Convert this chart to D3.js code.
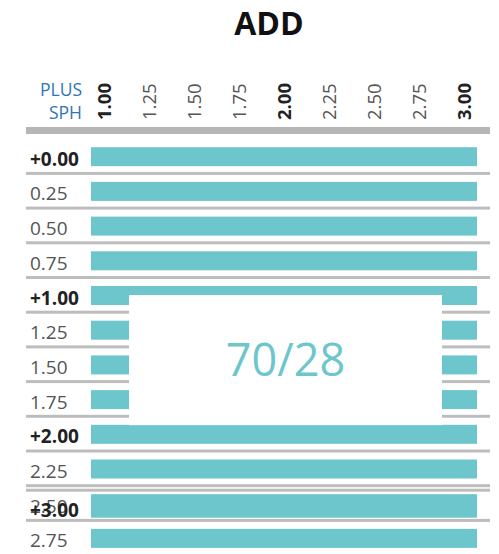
<!DOCTYPE html>
<html>
<head>
<meta charset="utf-8">
<script src="https://cdn.jsdelivr.net/npm/d3@7"></script>
<style>
  html, body { margin: 0; padding: 0; background: #fff; }
  svg { display: block; font-family: "Open Sans", "Noto Sans", sans-serif; }
</style>
</head>
<body>
<svg id="chart" width="499" height="554"></svg>
<script>
// ---- data ----
const title = "ADD";
const axisTitle = ["PLUS", "SPH"];
const addTicks = [1.00, 1.25, 1.50, 1.75, 2.00, 2.25, 2.50, 2.75, 3.00];
const addBoldTicks = [1.00, 2.00, 3.00];
const sphLabels = ["+0.00", "0.25", "0.50", "0.75", "+1.00", "1.25", "1.50", "1.75", "+2.00", "2.25", "2.50", "2.75", "+3.00"];
const sphSlots  = [0, 1, 2, 3, 4, 5, 6, 7, 8, 9, 10, 11, 10.13];
const addFrom   = [1.00, 1.00, 1.00, 1.00, 1.00, 1.00, 1.00, 1.00, 1.00, 1.00, 1.00, 1.00, 1.00];
const addTo     = [3.00, 3.00, 3.00, 3.00, 3.00, 3.00, 3.00, 3.00, 3.00, 3.00, 3.00, 3.00, 3.00];
const overlayText = "70/28";
const overlayAdd  = [1.137, 2.88];
const overlaySlot = [4.52, 8.27];

// ---- scales ----
const svg = d3.select("#chart");
const x = d3.scaleLinear().domain([0.925, 3.075]).range([91, 477]);
const y = d3.scaleLinear().domain([0, 12]).range([138.2, 138.2 + 34.7 * 12]);
const barColor = "#6ec6cd";

const rows = sphLabels.map((l, i) => ({ label: l, slot: sphSlots[i], from: addFrom[i], to: addTo[i], bold: l.startsWith("+") }));

// title
svg.append("text").attr("x", 269).attr("y", 35).attr("text-anchor", "middle")
  .attr("font-size", 32).attr("font-weight", 700).attr("fill", "#111").text(title);

// axis title
svg.selectAll("text.ax").data(axisTitle).join("text").attr("class", "ax")
  .attr("x", 82).attr("y", (d, i) => 96 + i * 23).attr("text-anchor", "end")
  .attr("font-size", 17.5).attr("fill", "#2e75b6").text(d => d);

// ticks (rotated)
const xAxis = d3.axisTop(x).tickValues(addTicks).tickFormat(d3.format(".2f")).tickSize(0).tickPadding(0);
const gx = svg.append("g").attr("transform", "translate(0,120)").call(xAxis);
gx.select(".domain").remove();
gx.selectAll(".tick text")
  .attr("transform", "rotate(-90)")
  .attr("x", 0).attr("y", 0).attr("dy", "0.35em")
  .attr("text-anchor", "start")
  .attr("font-family", "'Open Sans', sans-serif")
  .attr("font-size", 18.5)
  .attr("font-weight", d => addBoldTicks.includes(d) ? 700 : 400)
  .attr("fill", d => addBoldTicks.includes(d) ? "#222" : "#555");

// header thick line
svg.append("rect").attr("x", 26).attr("width", 464).attr("y", 127).attr("height", 7).attr("fill", "#b5b5b5");

// row separators (top of each row except first)
svg.selectAll("rect.sep").data(rows.filter(r => r.slot > 0)).join("rect").attr("class", "sep")
  .attr("x", 26).attr("width", 464)
  .attr("y", d => y(d.slot) - 1).attr("height", 3).attr("fill", "#bdbdbd");

// bars
svg.selectAll("rect.bar").data(rows).join("rect").attr("class", "bar")
  .attr("x", d => x(d.from) - 0.3 * (x(1.25) - x(1)))
  .attr("width", d => x(d.to) - x(d.from) + 0.6 * (x(1.25) - x(1)))
  .attr("y", d => y(d.slot) + 9).attr("height", 19)
  .attr("fill", barColor);

// row labels
svg.selectAll("text.row").data(rows).join("text").attr("class", "row")
  .attr("x", 30).attr("y", d => y(d.slot) + 27.5)
  .attr("font-size", 19)
  .attr("font-weight", d => d.bold ? 700 : 400)
  .attr("fill", d => d.bold ? "#222" : "#555")
  .text(d => d.label);

// overlay box
const bx0 = x(overlayAdd[0]), bx1 = x(overlayAdd[1]);
const by0 = y(overlaySlot[0]), by1 = y(overlaySlot[1]);
svg.append("rect").attr("x", bx0).attr("y", by0).attr("width", bx1 - bx0).attr("height", by1 - by0).attr("fill", "#fff");
svg.append("text").attr("x", (bx0 + bx1) / 2).attr("y", by0 + 81)
  .attr("text-anchor", "middle").attr("font-size", 45).attr("fill", barColor).text(overlayText);
</script>
</body>
</html>
